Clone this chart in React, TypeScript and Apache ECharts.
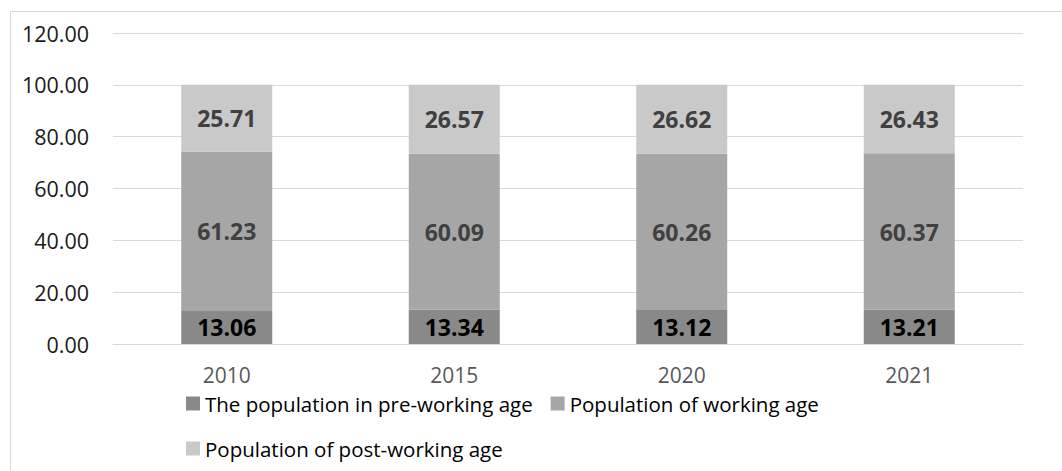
import React, { useEffect, useRef } from "react";
import * as echarts from "echarts";

const categories = ["2010", "2015", "2020", "2021"];
const preWorking = [13.06, 13.34, 13.12, 13.21];
const working = [61.23, 60.09, 60.26, 60.37];
const postWorking = [25.71, 26.57, 26.62, 26.43];
const seriesNames = [
  "The population in pre-working age",
  "Population of working age",
  "Population of post-working age",
];

const FONT = "'Open Sans', sans-serif";

export default function App() {
  const ref = useRef<HTMLDivElement>(null);
  useEffect(() => {
    if (!ref.current) return;
    const chart = echarts.init(ref.current, null, { renderer: "svg" });
    const mkLabel = (color: string) => ({
      show: true,
      position: "inside",
      color,
      fontFamily: FONT,
      fontWeight: "bold",
      fontSize: 23,
      formatter: (p: any) => Number(p.value).toFixed(2),
    });
    chart.setOption({
      animation: false,
      backgroundColor: "#ffffff",
      textStyle: { fontFamily: FONT },
      graphic: [
        {
          type: "rect",
          shape: { x: 10.5, y: 11.5, width: 1100, height: 500 },
          style: { fill: "none", stroke: "#d9d9d9", lineWidth: 1 },
          silent: true,
        },
      ],
      grid: { left: 113, right: 39, top: 33, bottom: 127, containLabel: false },
      xAxis: {
        type: "category",
        data: categories,
        axisLine: { show: true, lineStyle: { color: "#d9d9d9", width: 1 } },
        axisTick: { show: false },
        axisLabel: {
          color: "#595959",
          fontSize: 21,
          lineHeight: 18,
          margin: 22,
          fontFamily: FONT,
        },
      },
      yAxis: {
        type: "value",
        min: 0,
        max: 120,
        interval: 20,
        axisLine: { show: false },
        axisTick: { show: false },
        splitLine: { lineStyle: { color: "#d9d9d9", width: 1 } },
        axisLabel: {
          color: "#1a1a1a",
          fontSize: 21.5,
          margin: 24,
          fontFamily: FONT,
          formatter: (v: number) => v.toFixed(2),
        },
      },
      legend: [
        {
          data: [seriesNames[0], seriesNames[1]],
          left: 186,
          top: 393,
          padding: 0,
          itemWidth: 14,
          itemHeight: 14,
          itemGap: 18,
          icon: "rect",
          textStyle: { color: "#000000", fontSize: 20.5, fontFamily: FONT, lineHeight: 18 },
        },
        {
          data: [seriesNames[2]],
          left: 186,
          top: 438,
          padding: 0,
          itemWidth: 14,
          itemHeight: 14,
          icon: "rect",
          textStyle: { color: "#000000", fontSize: 20.5, fontFamily: FONT, lineHeight: 18 },
        },
      ],
      series: [
        {
          name: seriesNames[0],
          type: "bar",
          stack: "total",
          barWidth: "40%",
          data: preWorking,
          itemStyle: { color: "#898989" },
          label: mkLabel("#000000"),
        },
        {
          name: seriesNames[1],
          type: "bar",
          stack: "total",
          barWidth: "40%",
          data: working,
          itemStyle: { color: "#a6a6a6" },
          label: mkLabel("#404040"),
        },
        {
          name: seriesNames[2],
          type: "bar",
          stack: "total",
          barWidth: "40%",
          data: postWorking,
          itemStyle: { color: "#c9c9c9" },
          label: mkLabel("#404040"),
        },
      ],
    });
    return () => chart.dispose();
  }, []);
  return (
    <div
      ref={ref}
      style={{ position: "fixed", left: 0, top: 0, width: 1062, height: 471 }}
    />
  );
}
